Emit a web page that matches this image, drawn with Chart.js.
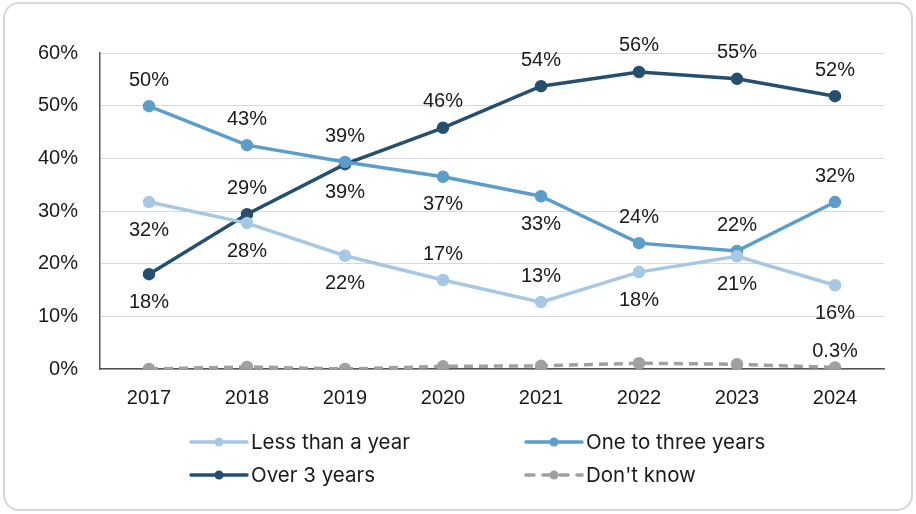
<!DOCTYPE html>
<html>
<head>
<meta charset="utf-8">
<script src="https://cdn.jsdelivr.net/npm/chart.js@4/dist/chart.umd.min.js"></script>
<style>
  html, body { margin: 0; padding: 0; background: #ffffff; }
  #wrap { position: relative; width: 916px; height: 514px; }
  #frame { position: absolute; left: 3px; top: 2px; width: 906px; height: 505px; border: 2px solid #d6d6d6; border-radius: 16px; pointer-events: none; }
  canvas { position: absolute; left: 0; top: 0; }
</style>
</head>
<body>
<div id="wrap">
  <canvas id="c" width="916" height="514"></canvas>
  <div id="frame"></div>
</div>
<script>
const categories = ['2017', '2018', '2019', '2020', '2021', '2022', '2023', '2024'];
const lessThanYear = [31.7, 27.7, 21.5, 16.9, 12.7, 18.4, 21.4, 15.9];
const oneToThree = [49.9, 42.5, 39.3, 36.5, 32.8, 23.9, 22.4, 31.7];
const overThree = [18.0, 29.4, 38.9, 45.8, 53.7, 56.4, 55.1, 51.8];
const dontKnow = [0.0, 0.4, 0.0, 0.5, 0.6, 1.1, 0.9, 0.3];
const lessLabels = ['32%', '28%', '22%', '17%', '13%', '18%', '21%', '16%'];
const oneLabels = ['50%', '43%', '39%', '37%', '33%', '24%', '22%', '32%'];
const overLabels = ['18%', '29%', '39%', '46%', '54%', '56%', '55%', '52%'];
const dkLabels = ['', '', '', '', '', '', '', '0.3%'];
// label placement: 1 = above, -1 = below
const lessPos = [-1, -1, -1, 1, 1, -1, -1, -1];
const onePos = [1, 1, 1, -1, -1, 1, 1, 1];
const overPos = [-1, 1, -1, 1, 1, 1, 1, 1];
const dkPos = [1, 1, 1, 1, 1, 1, 1, 1];
const yTicks = [0, 10, 20, 30, 40, 50, 60];

const FONT = '"Liberation Sans", Arial, sans-serif';
const LEGEND_FONT = 'Inter, "Noto Sans", sans-serif';
const colors = { less: '#a6c8e4', one: '#5b9dcb', over: '#254f70', dk: '#a0a0a0' };

function ds(label, data, color, labels, pos, dash, gap) {
  return {
    label, data,
    borderColor: color, backgroundColor: color,
    pointBackgroundColor: color, pointBorderColor: color,
    borderWidth: 3.5, pointRadius: 4.5, pointHoverRadius: 4.5,
    borderDash: dash || [], tension: 0,
    _labels: labels, _pos: pos, _gap: gap || 26
  };
}

const labelPlugin = {
  id: 'valueLabels',
  afterDatasetsDraw(chart) {
    const ctx = chart.ctx;
    ctx.save();
    ctx.font = '20px ' + FONT;
    ctx.fillStyle = '#1a1a1a';
    ctx.textAlign = 'center';
    ctx.textBaseline = 'middle';
    chart.data.datasets.forEach((d, i) => {
      const meta = chart.getDatasetMeta(i);
      meta.data.forEach((pt, j) => {
        const t = d._labels[j];
        if (!t) return;
        const off = d._pos[j] > 0 ? -d._gap : d._gap + 2;
        ctx.fillText(t, pt.x, pt.y + off);
      });
    });
    ctx.restore();
  }
};

const legendPlugin = {
  id: 'gridLegend',
  afterDraw(chart) {
    const ctx = chart.ctx;
    const slots = [[191, 442], [526, 442], [191, 475], [526, 475]];
    ctx.save();
    chart.data.datasets.forEach((d, i) => {
      const [x, y] = slots[i];
      ctx.strokeStyle = d.borderColor;
      ctx.lineWidth = 3.5;
      ctx.lineCap = 'round';
      ctx.setLineDash(d.borderDash && d.borderDash.length ? [8, 9] : []);
      ctx.beginPath();
      ctx.moveTo(x, y);
      ctx.lineTo(x + 56, y);
      ctx.stroke();
      ctx.setLineDash([]);
      ctx.fillStyle = d.borderColor;
      ctx.beginPath();
      ctx.arc(x + 28, y, 4.5, 0, Math.PI * 2);
      ctx.fill();
      ctx.font = '20.5px ' + LEGEND_FONT;
      ctx.fillStyle = '#1a1a1a';
      ctx.textAlign = 'left';
      ctx.textBaseline = 'middle';
      ctx.fillText(d.label, x + 60, y + 1);
    });
    ctx.restore();
  }
};

new Chart(document.getElementById('c'), {
  type: 'line',
  data: {
    labels: categories,
    datasets: [
      ds('Less than a year', lessThanYear, colors.less, lessLabels, lessPos),
      ds('One to three years', oneToThree, colors.one, oneLabels, onePos),
      ds('Over 3 years', overThree, colors.over, overLabels, overPos),
      ds("Don't know", dontKnow, colors.dk, dkLabels, dkPos, [9, 6], 16)
    ]
  },
  options: {
    responsive: false,
    animation: false,
    devicePixelRatio: 1,
    layout: { padding: { left: 0, right: 32, top: 53, bottom: 105 } },
    plugins: { legend: { display: false }, tooltip: { enabled: false } },
    scales: {
      x: {
        offset: true,
        grid: { display: false, drawTicks: false },
        border: { display: true, color: '#555555', width: 1.5 },
        ticks: { padding: 17, color: '#1a1a1a', font: { family: FONT, size: 20 } },
        afterFit(s) { s.height = 40; }
      },
      y: {
        min: 0, max: 60,
        afterBuildTicks(s) { s.ticks = yTicks.map(v => ({ value: v })); },
        grid: { color: '#d9d9d9', lineWidth: 1, drawTicks: false },
        border: { display: true, color: '#555555', width: 1.5 },
        ticks: { padding: 22, color: '#1a1a1a', font: { family: FONT, size: 20 }, callback: v => v + '%' },
        afterFit(s) { s.width = 100; }
      }
    }
  },
  plugins: [labelPlugin, legendPlugin]
});
</script>
</body>
</html>
